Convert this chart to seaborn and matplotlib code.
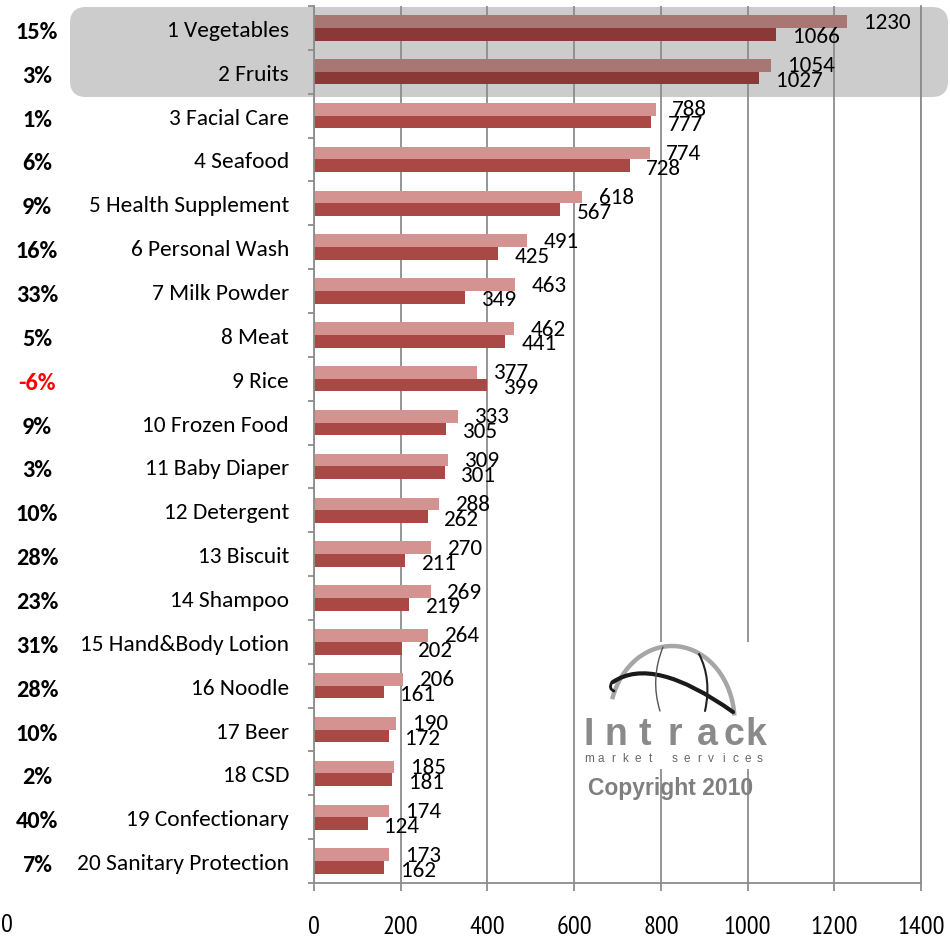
import matplotlib
matplotlib.use('Agg')
import matplotlib.pyplot as plt
import seaborn as sns
import pandas as pd
import numpy as np
from matplotlib import font_manager as fm
from matplotlib.patches import FancyBboxPatch, Rectangle, Arc, PathPatch
from matplotlib.path import Path
from matplotlib.transforms import blended_transform_factory

# ---------------- data ----------------
categories = ["1 Vegetables", "2 Fruits", "3 Facial Care", "4 Seafood",
              "5 Health Supplement", "6 Personal Wash", "7 Milk Powder",
              "8 Meat", "9 Rice", "10 Frozen Food", "11 Baby Diaper",
              "12 Detergent", "13 Biscuit", "14 Shampoo",
              "15 Hand&Body Lotion", "16 Noodle", "17 Beer", "18 CSD",
              "19 Confectionary", "20 Sanitary Protection"]
sales_current = [1230, 1054, 788, 774, 618, 491, 463, 462, 377, 333,
                 309, 288, 270, 269, 264, 206, 190, 185, 174, 173]
sales_previous = [1066, 1027, 777, 728, 567, 425, 349, 441, 399, 305,
                  301, 262, 211, 219, 202, 161, 172, 181, 124, 162]
growth_labels = ["15%", "3%", "1%", "6%", "9%", "16%", "33%", "5%", "-6%", "9%",
                 "3%", "10%", "28%", "23%", "31%", "28%", "10%", "2%", "40%", "7%"]
series_names = ["Current", "Previous"]
x_ticks = [0, 200, 400, 600, 800, 1000, 1200, 1400]
highlighted = [0, 1]

# ---------------- fonts ----------------
W, H = 950, 937
sns.set_theme(style="white")
avail = {f.name for f in fm.fontManager.ttflist}

def first_avail(names):
    for nm in names:
        if nm in avail:
            return nm
    return "DejaVu Sans"

main_font = first_avail(["Carlito", "Lato", "Open Sans"])
narrow_font = first_avail(["Liberation Sans Narrow", "Arial Narrow", "PT Sans Narrow",
                           "Archivo Narrow", "Roboto Condensed", main_font])
arial = first_avail(["Liberation Sans", "Arimo", "DejaVu Sans"])

if main_font == "Carlito":
    cat_size, pct_size, val_size = 16.8, 17.5, 16.7
else:
    cat_size, pct_size, val_size = 16, 15.5, 14.5
tick_size = 19 if narrow_font != main_font else val_size

plt.rcParams["font.family"] = [main_font, "DejaVu Sans"]
plt.rcParams["text.color"] = "black"
plt.rcParams["xtick.color"] = "black"
plt.rcParams["ytick.color"] = "black"

light = "#d49291"
dark = "#aa4846"
hi_light = "#a87673"
hi_dark = "#8a3937"
grey = "#8c8c8c"

fig = plt.figure(figsize=(W / 100, H / 100), dpi=100)
fig.patch.set_facecolor("white")

def P(px, py):
    """image pixel -> inches (for dpi_scale_trans)"""
    return (px / 100.0, (H - py) / 100.0)

# highlight box behind first two rows
x0, y0 = P(70, 98)
hl = FancyBboxPatch((x0, y0), (948 - 70) / 100.0, 0.90,
                    boxstyle="round,pad=0,rounding_size=0.16",
                    transform=fig.dpi_scale_trans, facecolor="#cccccc",
                    edgecolor="none", zorder=-1)
fig.add_artist(hl)

ax = fig.add_axes([314 / W, 1 - 884 / H, (921 - 314) / W, (884 - 7) / H])
ax.set_facecolor("none")

n = len(categories)
df = pd.DataFrame({
    "category": categories * 2,
    "value": sales_current + sales_previous,
    "series": [series_names[0]] * n + [series_names[1]] * n,
})
sns.barplot(data=df, x="value", y="category", hue="series",
            hue_order=series_names, palette=[light, dark], width=0.58,
            orient="h", saturation=1, legend=False, ax=ax, linewidth=0)

for cont, hc in zip(ax.containers, [hi_light, hi_dark]):
    for i, p in enumerate(cont.patches):
        if i in highlighted:
            p.set_facecolor(hc)

# value labels
for cont, vals, dy in zip(ax.containers, [sales_current, sales_previous], [0, -1.5]):
    for p, v in zip(cont.patches, vals):
        ax.annotate(f"{v}", xy=(p.get_x() + p.get_width(), p.get_y() + p.get_height() / 2),
                    xytext=(12, dy), textcoords="offset points", ha="left", va="center",
                    fontsize=val_size, color="black", annotation_clip=False)

ax.set_xlim(0, 1400)
ax.set_ylim(n - 0.5, -0.5)
ax.set_xticks(x_ticks)
ax.set_xticklabels([str(t) for t in x_ticks], fontfamily=narrow_font, fontsize=tick_size)
ax.set_xlabel("")
ax.set_ylabel("")
ax.xaxis.grid(True, color=grey, linewidth=1.3, zorder=0.5)
ax.yaxis.grid(False)
ax.set_axisbelow(True)
for s in ["left", "bottom", "right"]:
    ax.spines[s].set_visible(True)
    ax.spines[s].set_color(grey)
    ax.spines[s].set_linewidth(1.3)
ax.spines["top"].set_visible(False)

ax.tick_params(axis="x", which="major", direction="out", length=5.8, width=1.3,
               color=grey, pad=17, bottom=True)
ax.tick_params(axis="y", which="major", length=0, pad=18, labelsize=cat_size)
ax.set_yticks(np.arange(-0.5, n, 1), minor=True)
ax.tick_params(axis="y", which="minor", direction="out", length=4.5, width=1.3,
               color=grey, left=True)

# growth percentages
tr = blended_transform_factory(fig.transFigure, ax.transData)
for i, g in enumerate(growth_labels):
    ax.text(37 / W, i + 0.08, g, transform=tr, ha="center", va="center",
            fontsize=pct_size, fontweight="bold",
            color="#ff0000" if g.startswith("-") else "black", clip_on=False)

# stray zero at bottom-left
fig.text(7 / W, 1 - 926 / H, "0", ha="center", va="center",
         fontfamily=narrow_font, fontsize=tick_size)

# ---------------- logo ----------------
lx, ly = P(576, 770)
ax.add_patch(Rectangle((lx, ly), (764 - 576) / 100.0, (770 - 643) / 100.0,
                       transform=fig.dpi_scale_trans, facecolor="white",
                       edgecolor="none", zorder=0.8, clip_on=False))
cx, cy = P(672, 722)
fig.add_artist(Arc((cx, cy), 1.25, 1.50, theta1=5, theta2=160,
                   transform=fig.dpi_scale_trans, color="#a6a6a6", lw=3.2, zorder=6))

def bez(p0, c, p1, lw, col):
    verts = [P(*p0), P(*c), P(*p1)]
    path = Path(verts, [Path.MOVETO, Path.CURVE3, Path.CURVE3])
    fig.add_artist(PathPatch(path, transform=fig.dpi_scale_trans, facecolor="none",
                             edgecolor=col, lw=lw, zorder=7, capstyle="round"))

bez((613, 683), (653, 656), (733, 713), 3.0, "#1a1a1a")
bez((612, 683), (608, 690), (614, 692), 2.0, "#1a1a1a")
bez((663, 648), (650, 680), (660, 712), 1.0, "#555555")
bez((699, 655), (712, 680), (705, 712), 1.5, "#222222")

letters = "Intrack"
lxs = [589, 616, 645, 675, 707, 734, 756]
for ch, xx in zip(letters, lxs):
    fx, fy = P(xx, 745)
    fig.text(fx / (W / 100), fy / (H / 100), ch, ha="center", va="baseline",
             fontfamily=arial, fontweight="bold", fontsize=27, color="#8a8a8a", zorder=8)
ms = "market services"
for k, ch in enumerate(ms):
    xx = 589 + k * (760 - 589) / (len(ms) - 1)
    fx, fy = P(xx, 762)
    fig.text(fx / (W / 100), fy / (H / 100), ch, ha="center", va="baseline",
             fontfamily=arial, fontsize=8.5, color="#666666", zorder=8)
fx, fy = P(671, 795)
fig.text(fx / (W / 100), fy / (H / 100), "Copyright 2010", ha="center", va="baseline",
         fontfamily=arial, fontweight="bold", fontsize=16.5, color="#7f7f7f", zorder=8)

fig.savefig("out.png", dpi=100, facecolor="white")
